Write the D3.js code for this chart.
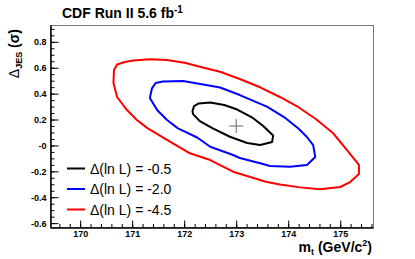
<!DOCTYPE html>
<html>
<head>
<meta charset="utf-8">
<script src="https://cdn.jsdelivr.net/npm/d3@7"></script>
<style>
  body { margin: 0; background: #fff; }
  svg { display: block; font-family: "Liberation Sans", Arial, Helvetica, sans-serif; }
  .tick text { font-weight: bold; font-size: 9px; fill: #000; }
</style>
</head>
<body>
<svg id="chart" width="415" height="259"></svg>
<script>
// values
var xMajor = [170, 171, 172, 173, 174, 175];
var yMajor = [-0.6, -0.4, -0.2, 0, 0.2, 0.4, 0.6, 0.8];
var yLabels = ["-0.6", "-0.4", "-0.2", "-0", "0.2", "0.4", "0.6", "0.8"];

var bestFit = [173.0, 0.15];

// contour points [m_t, JES]
var contour05 = [
  [172.16, 0.266], [172.19, 0.304], [172.28, 0.324], [172.50, 0.331], [172.77, 0.312],
  [173.02, 0.277], [173.32, 0.212], [173.52, 0.150], [173.71, 0.076], [173.69, 0.026],
  [173.46, 0.003], [173.21, 0.019], [172.88, 0.067], [172.55, 0.132], [172.30, 0.188],
  [172.17, 0.242]
];
var contour20 = [
  [171.34, 0.366], [171.38, 0.441], [171.45, 0.482], [171.59, 0.493], [171.98, 0.497],
  [172.42, 0.466], [172.69, 0.447], [173.07, 0.389], [173.59, 0.299], [173.92, 0.219],
  [174.19, 0.132], [174.36, 0.065], [174.48, 0.003], [174.52, -0.090], [174.36, -0.151],
  [174.03, -0.164], [173.65, -0.159], [173.46, -0.138], [173.07, -0.097], [172.94, -0.074],
  [172.50, -0.010], [172.25, 0.061], [171.88, 0.132], [171.67, 0.196], [171.48, 0.273]
];
var contour45 = [
  [170.64, 0.482], [170.65, 0.582], [170.71, 0.625], [170.86, 0.644], [171.02, 0.656],
  [171.34, 0.665], [171.67, 0.659], [172.03, 0.636], [172.30, 0.608], [172.69, 0.569],
  [173.07, 0.513], [173.46, 0.449], [173.84, 0.374], [174.19, 0.297], [174.53, 0.204],
  [174.86, 0.096], [175.13, -0.036], [175.36, -0.151], [175.36, -0.221], [175.19, -0.283],
  [175.00, -0.321], [174.61, -0.339], [174.23, -0.324], [173.84, -0.302], [173.57, -0.280],
  [172.94, -0.203], [172.50, -0.113], [172.11, -0.061], [171.67, 0.042], [171.30, 0.132],
  [171.09, 0.196], [170.90, 0.273], [170.71, 0.374]
];

var contours = [contour05, contour20, contour45];
var colors = ["#000000", "#0000ff", "#ff0000"];
var legendLabels = ["\u0394(ln L) = -0.5", "\u0394(ln L) = -2.0", "\u0394(ln L) = -4.5"];

var svg = d3.select("#chart");
var padL = 50, padR = 373, padT = 25, padB = 227;

var x = d3.scaleLinear().domain([169.42, 175.63]).range([padL, padR]);
var y = d3.scaleLinear().domain([-0.63, 0.93]).range([padB, padT]);

// frame
svg.append("rect")
  .attr("x", padL + 0.5).attr("y", padT + 0.5)
  .attr("width", padR - padL).attr("height", padB - padT)
  .attr("fill", "none").attr("stroke", "#777").attr("stroke-width", 1);

// x axis: minor then major
svg.append("g")
  .attr("transform", "translate(0," + (padB + 0.5) + ")")
  .call(d3.axisBottom(x).tickValues(d3.range(169.6, 175.65, 0.2)).tickSize(-3.5).tickSizeOuter(0).tickFormat(""));
svg.append("g")
  .attr("transform", "translate(0," + (padB + 0.5) + ")")
  .call(d3.axisBottom(x).tickValues(xMajor).tickSize(-7).tickSizeOuter(0).tickPadding(3).tickFormat(d3.format("d")));

// y axis
svg.append("g")
  .attr("transform", "translate(" + (padL + 0.5) + ",0)")
  .call(d3.axisLeft(y).tickValues(d3.range(-0.6, 0.92, 0.05)).tickSize(-4).tickSizeOuter(0).tickFormat(""));
svg.append("g")
  .attr("transform", "translate(" + (padL + 0.5) + ",0)")
  .call(d3.axisLeft(y).tickValues(yMajor).tickSize(-8).tickSizeOuter(0).tickPadding(4)
    .tickFormat(function(d, i) { return yLabels[i]; }));

svg.selectAll(".domain").attr("stroke", "#000");
svg.selectAll(".tick line").attr("stroke", "#000");

// contours
var line = d3.line()
  .x(function(d) { return x(d[0]); })
  .y(function(d) { return y(d[1]); })
  .curve(d3.curveLinearClosed);

svg.selectAll(".contour")
  .data(contours)
  .enter().append("path")
  .attr("class", "contour")
  .attr("d", line)
  .attr("fill", "none")
  .attr("stroke", function(d, i) { return colors[i]; })
  .attr("stroke-width", 2)
  .attr("stroke-linejoin", "round");

// best fit marker
var bx = x(bestFit[0]), by = y(bestFit[1]);
svg.append("path")
  .attr("d", "M" + (bx - 7) + "," + by + "H" + (bx + 7) + "M" + bx + "," + (by - 7) + "V" + (by + 7))
  .attr("stroke", "#666").attr("stroke-width", 1);

// legend
var legend = svg.append("g").selectAll("g")
  .data(legendLabels)
  .enter().append("g")
  .attr("transform", function(d, i) { return "translate(67," + (168.5 + i * 20.5) + ")"; });
legend.append("line")
  .attr("x1", 0).attr("x2", 18)
  .attr("stroke", function(d, i) { return colors[i]; })
  .attr("stroke-width", 2);
legend.append("text")
  .attr("x", 23).attr("y", 5)
  .style("font-size", "14px")
  .text(function(d) { return d; });

// title
var title = svg.append("text")
  .attr("x", 62).attr("y", 18)
  .style("font-size", "14px").style("font-weight", "bold");
title.append("tspan").text("CDF Run II 5.6 fb");
title.append("tspan").attr("dy", -5).style("font-size", "10px").text("-1");

// x axis title
var xt = svg.append("text")
  .attr("x", 372).attr("y", 252)
  .attr("text-anchor", "end")
  .style("font-size", "14px").style("font-weight", "bold");
xt.append("tspan").text("m");
xt.append("tspan").attr("dy", 3).style("font-size", "9px").text("t");
xt.append("tspan").attr("dy", -3).text(" (GeV/c");
xt.append("tspan").attr("dy", -6).style("font-size", "9px").text("2");
xt.append("tspan").attr("dy", 6).text(")");

// y axis title
var yt = svg.append("text")
  .attr("transform", "translate(19,29) rotate(-90)")
  .attr("text-anchor", "end")
  .style("font-size", "14px").style("font-weight", "bold");
yt.append("tspan").style("font-weight", "normal").text("\u0394");
yt.append("tspan").attr("dy", 3).style("font-size", "9px").text("JES");
yt.append("tspan").attr("dy", -3).text(" (\u03c3)");
</script>
</body>
</html>
